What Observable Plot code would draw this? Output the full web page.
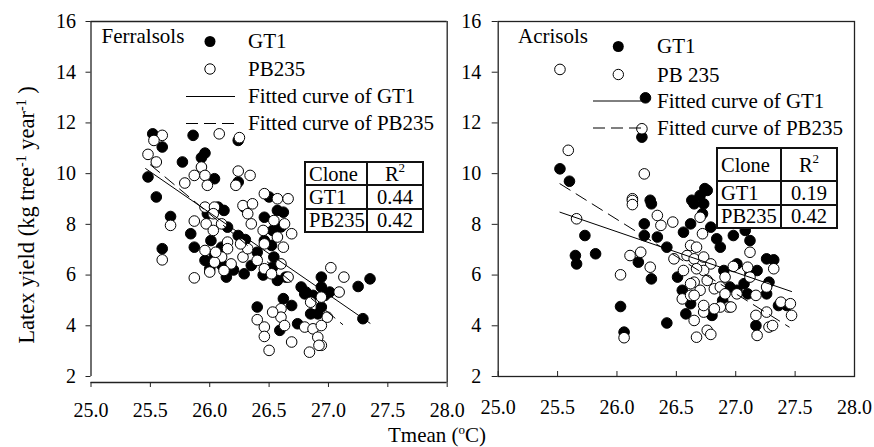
<!DOCTYPE html>
<html><head><meta charset="utf-8">
<script src="https://cdn.jsdelivr.net/npm/d3@7"></script>
<script src="https://cdn.jsdelivr.net/npm/@observablehq/plot@0.6"></script>
<style>
body{margin:0;background:#fff;}
#wrap{position:relative;width:874px;height:447px;font-family:"Liberation Serif",serif;color:#000;overflow:hidden;background:#fff}
.panel{position:absolute;top:0}
#overlay{position:absolute;left:0;top:0;pointer-events:none}
table.r2{position:absolute;border-collapse:collapse;table-layout:fixed;font-size:20.5px;background:#fff}
table.r2 td{border:2px solid #111;padding:0 3px;white-space:nowrap;line-height:20px}
table.r2 td.c{text-align:center}
</style></head><body><div id="wrap"></div>
<script>
// ---- data (Tmean °C, latex yield kg tree-1 year-1) ----
const xTicks = [25, 25.5, 26, 26.5, 27, 27.5, 28];
const yTicks = [2, 4, 6, 8, 10, 12, 14, 16];

const ferrGT1 = [
 [25.52,11.57],[25.60,11.05],[25.86,11.51],[26.24,11.31],[25.48,9.87],[25.77,10.46],[25.96,10.81],[25.93,10.63],
 [26.04,9.80],[26.24,9.67],[26.50,9.08],[25.55,9.08],[25.67,8.31],[25.60,7.04],[25.84,7.63],[25.87,7.10],
 [25.96,6.58],[26.00,6.25],[26.14,5.92],[26.04,6.77],[26.01,7.36],[26.15,7.89],[26.24,7.56],[26.12,8.55],
 [25.98,8.42],[26.07,8.68],[26.29,6.05],[26.35,6.38],[26.10,7.10],[26.20,6.20],[26.30,7.40],[26.10,6.40],
 [26.29,8.68],[26.46,8.28],[26.57,8.55],[26.62,8.48],[26.53,7.76],[26.52,7.17],[26.46,7.36],[26.54,6.71],
 [26.53,6.31],[26.57,5.79],[26.64,5.92],[26.40,6.90],[26.45,6.00],[26.60,7.90],
 [26.94,5.92],[27.25,5.55],[27.35,5.85],[27.29,4.28],[26.77,5.53],[26.81,5.33],[26.87,5.20],[26.97,5.20],
 [27.01,5.33],[26.62,5.07],[26.69,4.80],[26.40,4.74],[26.59,3.82],[26.74,4.08],[26.85,4.47],[26.94,4.74],
 [26.91,4.47],[26.80,5.26],[26.94,5.53]
];
const ferrPB235 = [
 [25.60,11.51],[25.53,11.31],[26.08,11.57],[26.25,11.42],[25.48,10.76],[25.55,10.46],[25.93,10.26],[25.87,9.93],
 [25.96,9.93],[26.24,10.10],[26.34,9.93],[26.22,9.54],[25.79,9.63],[25.98,9.54],[26.46,9.21],[26.57,9.01],
 [26.66,9.01],[25.67,7.96],[25.60,6.60],[25.87,8.13],[25.87,5.89],
 [25.96,8.68],[26.04,8.68],[26.03,8.42],[25.97,8.02],[26.03,7.76],[26.10,8.02],[26.15,7.30],[26.15,7.04],
 [26.10,6.71],[26.04,6.51],[26.18,6.44],[26.12,6.18],[26.00,6.12],[25.96,6.97],[26.05,6.90],[26.28,6.71],
 [26.32,7.04],[26.26,7.23],
 [26.28,8.74],[26.36,8.81],[26.35,8.02],[26.32,8.42],[26.45,7.76],[26.54,8.15],[26.63,8.02],[26.69,7.63],
 [26.46,7.23],[26.57,7.50],[26.62,7.10],[26.40,6.58],[26.46,6.25],[26.52,6.05],[26.60,6.44],[26.66,5.92],
 [27.02,6.29],[27.13,5.92],[27.09,5.33],[26.50,3.03],[26.84,2.96],[26.94,3.23],[26.40,4.24],[26.46,3.95],
 [26.46,3.58],[26.69,3.36],[26.60,4.67],[26.60,4.34],[26.63,4.01],[26.80,3.95],[26.87,3.88],[26.94,4.01],
 [26.99,4.34],[26.91,3.55],[26.92,3.23],[26.85,4.93],[26.94,5.13],[26.53,4.54]
];
const acriGT1 = [
 [25.52,10.19],[25.60,9.70],[26.21,11.44],[26.24,12.99],[26.74,9.41],[26.70,9.14],[26.63,8.95],[26.28,8.95],
 [25.73,7.56],[25.65,6.77],[25.66,6.44],[25.82,6.84],[26.03,4.76],[26.06,3.75],[26.29,8.81],[26.23,8.02],
 [26.23,7.56],[26.34,7.50],[26.18,6.51],[26.29,5.85],[26.42,4.11],[26.42,7.10],[26.51,5.92],[26.55,5.40],
 [26.62,4.87],[26.58,4.47],[26.80,4.41],[26.73,8.81],[26.65,8.81],[26.76,9.34],[26.72,8.42],[26.56,7.69],
 [26.62,8.02],[26.79,7.89],[26.84,7.43],[26.87,7.10],[26.89,5.00],[26.90,6.18],[27.01,6.44],[26.98,7.56],
 [27.08,7.76],[27.12,7.36],[27.12,6.05],[27.07,5.66],[27.26,5.26],[27.28,5.72],[27.26,6.64],[27.32,6.60],
 [27.18,6.18],[27.17,4.01],[27.36,4.80],[27.43,4.80],[27.10,5.26],[26.95,5.53],[27.01,5.40]
];
const acriPB235 = [
 [25.52,14.11],[25.59,10.92],[26.23,9.99],[26.21,11.77],[26.13,9.01],[25.66,8.22],[26.03,6.01],[26.06,3.53],
 [26.13,8.94],[26.13,8.78],[26.34,8.35],[26.37,7.96],[26.47,8.09],[26.11,6.77],[26.20,6.90],[26.28,6.31],
 [26.48,6.64],[26.56,6.18],[26.55,5.06],[26.62,5.20],[26.65,4.21],[26.73,4.54],[26.67,3.55],[26.76,3.82],
 [26.79,3.66],[26.70,8.28],[26.72,7.63],[26.62,7.17],[26.67,7.10],[26.59,6.77],[26.65,6.64],[26.73,6.71],
 [26.79,6.44],[26.73,6.18],[26.67,6.25],[26.76,5.79],[26.65,5.72],[26.70,5.40],[26.82,5.46],[26.87,5.53],
 [26.62,5.66],[26.91,5.26],[26.94,4.74],[26.87,4.74],[26.91,5.92],[26.98,6.34],[27.12,6.90],[27.10,6.31],
 [27.01,5.26],[27.17,5.20],[27.26,5.53],[27.32,6.25],[27.12,5.92],[27.17,4.41],[27.18,3.62],[27.26,4.54],
 [27.28,3.95],[27.31,4.01],[27.38,4.93],[27.46,4.87],[27.47,4.41],[26.96,4.74],[26.65,5.20],[26.73,4.80],
 [26.82,4.67]
];
const ferrFitGT1 = [[25.46,10.2],[27.35,4.1]];
const ferrFitPB235 = [[25.50,10.35],[27.12,4.05]];
const acriFitGT1 = [[25.52,8.48],[27.47,5.35]];
const acriFitPB235 = [[25.52,9.6],[27.45,3.95]];

const ferrLegend = ["GT1", "PB235", "Fitted curve of GT1", "Fitted curve of PB235"];
const acriLegend = ["GT1", "PB 235", "Fitted curve of GT1", "Fitted curve of PB235"];
const tableHeader = ["Clone", "R"];
const ferrR2 = [["GT1", "0.44"], ["PB235", "0.42"]];
const acriR2 = [["GT1", "0.19"], ["PB235", "0.42"]];

// ---- drawing ----
const FONT = "Liberation Serif";
const LINE = "#222";
const wrap = document.getElementById("wrap");
const fmt = d => d.toFixed(1);

function dots(data, filled) {
  return Plot.dot(data, {x: d => d[0], y: d => d[1], r: 5.3,
    fill: filled ? "#000" : "#fff", stroke: "#000", strokeWidth: 1});
}
function fits(a, b) {
  return [
    Plot.line(a, {x: d => d[0], y: d => d[1], stroke: "#000", strokeWidth: 1}),
    Plot.line(b, {x: d => d[0], y: d => d[1], stroke: "#000", strokeWidth: 1, strokeDasharray: "12,7"})
  ];
}

function panel(kind) {
  const left = kind === "ferr";
  const marks = [];
  if (left) {
    marks.push(
      Plot.ruleX([25], {y1: 2, y2: 16, stroke: LINE, strokeWidth: 1.3}),
      Plot.ruleY([16], {x1: 25, x2: 28, stroke: LINE, strokeWidth: 1.3}),
      Plot.ruleX([28], {y1: 16, y2: 2, insetBottom: -6, stroke: LINE, strokeWidth: 1.3}),
      Plot.ruleY([2], {x1: 25, x2: 28, dy: 6, stroke: LINE, strokeWidth: 1.3}),
      Plot.axisX({ticks: xTicks, tickFormat: fmt, tickSize: 5, tickPadding: 15, dy: 6, label: null, stroke: LINE, fontFamily: FONT}),
      Plot.axisY({ticks: yTicks, tickSize: 5, tickPadding: 10, label: null, stroke: LINE, fontFamily: FONT})
    );
    marks.push(dots(ferrGT1, true), dots(ferrPB235, false), ...fits(ferrFitGT1, ferrFitPB235));
  } else {
    marks.push(
      Plot.frame({stroke: LINE, strokeWidth: 1.3}),
      Plot.ruleX(xTicks, {y1: 2, y2: 2, insetTop: -5, stroke: LINE}),
      Plot.axisX({ticks: xTicks, tickFormat: fmt, tickSize: 0, tickPadding: 23, label: null, fontFamily: FONT}),
      Plot.axisY({ticks: yTicks, tickSize: 6, tickPadding: 11, label: null, stroke: LINE, fontFamily: FONT})
    );
    marks.push(dots(acriGT1, true), dots(acriPB235, false), ...fits(acriFitGT1, acriFitPB235));
  }
  return Plot.plot({
    width: left ? 460 : 437,
    height: 447,
    marginLeft: left ? 90.5 : 60.7,
    marginRight: left ? 13.3 : 20,
    marginTop: 21,
    marginBottom: 71,
    x: {domain: [25, 28]},
    y: {domain: [2, 16]},
    style: {fontSize: "20px", color: "#000", background: "transparent", overflow: "visible"},
    marks
  });
}

const pL = panel("ferr"); pL.classList.add("panel"); pL.style.left = "0px";
const pR = panel("acri"); pR.classList.add("panel"); pR.style.left = "437px";
wrap.appendChild(pR); wrap.appendChild(pL);

// overlay: legends and axis titles
const svg = d3.select(wrap).append("svg").attr("id", "overlay")
  .attr("width", 874).attr("height", 447).style("overflow", "visible");

function legend(cfg, labels, title) {
  const g = svg.append("g");
  g.append("text").attr("x", cfg.tx).attr("y", 43).attr("font-size", 21).text(title);
  g.append("circle").attr("cx", cfg.cx).attr("cy", cfg.rows[0] - 6.5).attr("r", 5.5).attr("fill", "#000");
  g.append("circle").attr("cx", cfg.cx).attr("cy", cfg.rows[1] - 7).attr("r", 5.2).attr("fill", "#fff").attr("stroke", "#000");
  g.append("line").attr("x1", cfg.l1).attr("x2", cfg.l2).attr("y1", cfg.rows[2] - 6.5).attr("y2", cfg.rows[2] - 6.5).attr("stroke", "#000");
  g.append("line").attr("x1", cfg.l1).attr("x2", cfg.l2).attr("y1", cfg.rows[3] - 6.5).attr("y2", cfg.rows[3] - 6.5)
    .attr("stroke", "#000").attr("stroke-dasharray", "12,6");
  labels.forEach((t, i) => g.append("text").attr("x", cfg.lx).attr("y", cfg.rows[i]).attr("font-size", 21).text(t));
}
legend({tx: 101.5, cx: 210, l1: 186, l2: 235, lx: 248, rows: [48, 76, 103, 130]}, ferrLegend, "Ferralsols");
legend({tx: 518, cx: 618.3, l1: 593, l2: 643, lx: 657, rows: [53, 81.5, 107.5, 134.5]}, acriLegend, "Acrisols");

// y axis title
const yt = svg.append("text").attr("transform", "translate(34,215) rotate(-90)")
  .attr("text-anchor", "middle").attr("font-size", 22.5);
yt.append("tspan").text("Latex yield (kg tree");
yt.append("tspan").attr("dy", -8).attr("font-size", 14).text("-1");
yt.append("tspan").attr("dy", 8).text(" year");
yt.append("tspan").attr("dy", -8).attr("font-size", 14).text("-1");
yt.append("tspan").attr("dy", 8).text(" )");
// x axis title
const xt = svg.append("text").attr("x", 437).attr("y", 442).attr("text-anchor", "middle").attr("font-size", 21);
xt.append("tspan").text("Tmean (");
xt.append("tspan").attr("dy", -8).attr("font-size", 13).text("o");
xt.append("tspan").attr("dy", 8).text("C)");

// force serif face on every svg text
d3.select(wrap).selectAll("svg, svg text, svg g").style("font-family", FONT).attr("font-family", FONT);

// R² tables
function table(rows, pos) {
  const t = document.createElement("table");
  t.className = "r2";
  Object.assign(t.style, {left: pos.left + "px", top: pos.top + "px", width: pos.w1 + pos.w2 + "px"});
  const cg = document.createElement("colgroup");
  [pos.w1, pos.w2].forEach(w => { const c = document.createElement("col"); c.style.width = w + "px"; cg.appendChild(c); });
  t.appendChild(cg);
  const hr = t.insertRow();
  hr.style.height = pos.hh + "px";
  const h1 = hr.insertCell(); h1.textContent = tableHeader[0];
  const h2 = hr.insertCell(); h2.className = "c";
  h2.innerHTML = tableHeader[1] + "<sup style='font-size:13px;vertical-align:9px;line-height:0'>2</sup>";
  rows.forEach(r => {
    const tr = t.insertRow(); tr.style.height = pos.rh + "px";
    const a = tr.insertCell(); a.textContent = r[0];
    const b = tr.insertCell(); b.className = "c"; b.textContent = r[1];
  });
  wrap.appendChild(t);
}
table(ferrR2, {left: 304, top: 161, w1: 62, w2: 56, hh: 23, rh: 23.5});
table(acriR2, {left: 716, top: 147, w1: 64, w2: 56, hh: 33, rh: 23.5});
</script></body></html>
